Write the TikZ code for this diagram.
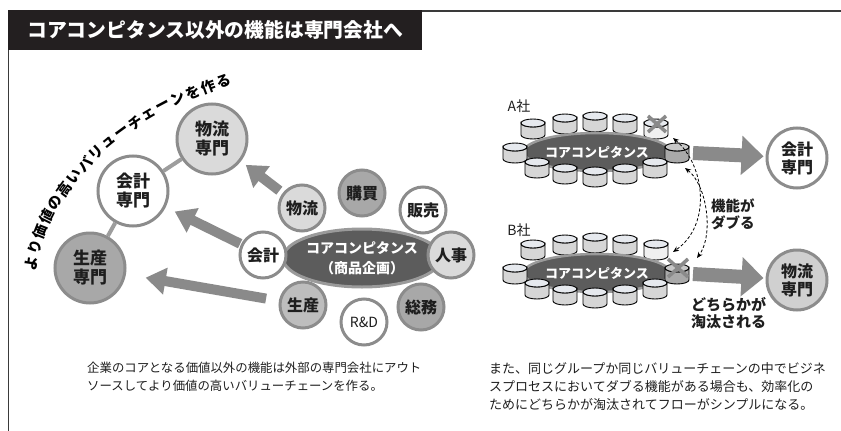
\documentclass[tikz,border=0pt]{standalone}
\usepackage{fontspec}
\newfontfamily\jp{Noto Sans CJK JP}
\usetikzlibrary{arrows.meta,shapes.geometric,calc,decorations.markings}
\newcommand\fs[2]{\fontsize{#1}{#2}\selectfont}
\definecolor{bord}{HTML}{8C8C8C}
\definecolor{lg}{HTML}{DADADA}
\definecolor{mg}{HTML}{A8A8A8}
\definecolor{sg}{HTML}{BDBDBD}
\definecolor{rg}{HTML}{D0D0D0}
\definecolor{ellf}{HTML}{5C5C5C}
\definecolor{ellb}{HTML}{9A9A9A}
\definecolor{arr}{HTML}{8A8A8A}
\definecolor{titlebg}{HTML}{231F20}
\definecolor{framec}{HTML}{3A3A3A}
\definecolor{ink}{HTML}{1E1E1E}
\definecolor{cb}{HTML}{D6D6D6}
\definecolor{cw}{HTML}{F0F0F0}
\definecolor{ch}{HTML}{A9A9A9}
\definecolor{cyltop}{HTML}{E6E9EE}
\definecolor{cyltoph}{HTML}{C8C8C8}
\tikzset{
  bigc/.style={circle, draw=bord, line width=3pt, minimum size=70pt, inner sep=0pt,
    font=\jp\bfseries\fs{17}{19}, text=ink, align=center},
  smallc/.style={circle, draw=bord, line width=3pt, minimum size=46pt, inner sep=0pt,
    font=\jp\bfseries\fs{16}{17}, text=ink},
  rbig/.style={circle, draw=bord, line width=3pt, minimum size=60pt, inner sep=0pt,
    font=\jp\bfseries\fs{16}{18}, text=ink, align=center},
  ellL/.style={ellipse, fill=ellf, draw=ellb, line width=3pt, minimum width=133pt,
    minimum height=58pt, inner sep=0pt, text=white, align=center,
    font=\jp\bfseries\fs{14}{20}},
  ellR/.style={ellipse, fill=ellf, draw=ellb, line width=2.5pt, minimum width=132pt,
    minimum height=38pt, inner sep=0pt, text=white, font=\jp\bfseries\fs{13}{15}},
  conn/.style={draw=bord!85, line width=4pt},
  bigarrow/.style={draw=arr, line width=10pt, -{Triangle[length=20pt,width=26pt]}},
  rarrow/.style={draw=arr, line width=14pt, -{Triangle[length=22pt,width=38pt]}},
  dasharr/.style={draw=black, line width=0.8pt, dash pattern=on 3pt off 2pt,
    {Stealth[length=6pt,width=5pt]}-{Stealth[length=6pt,width=5pt]}},
  xmark/.style={draw=arr, line width=3.5pt},
  arcch/.style={font=\jp\bfseries\fs{14.5}{15}, inner sep=0pt, text=black, transform shape},
  lbl/.style={font=\jp\bfseries\fs{14.5}{17}, text=ink, align=left, inner sep=0pt},
  captxt/.style={font=\jp\fs{12.4}{18}, text=ink, align=left, inner sep=0pt},
  pics/cyl/.style 2 args={code={
    \draw[black, line width=0.9pt, fill=#1] (-12,-6) -- (-12,6)
      arc[start angle=180, end angle=0, x radius=12, y radius=4] -- (12,-6)
      arc[start angle=0, end angle=180, x radius=12, y radius=4] -- cycle;
    \draw[black, line width=0.9pt, fill=#2] (0,-6) ellipse[x radius=12, y radius=4];
  }}
}
\newcommand\cgroup[2]{%
  \begin{scope}[shift={(0,#1)}]
    \pic at (533,129) {cyl={cb}{cyltop}};
    \pic at (565,124) {cyl={cb}{cyltop}};
    \pic at (595,122) {cyl={cb}{cyltop}};
    \pic at (625,124) {cyl={cb}{cyltop}};
    \pic at (656,129) {cyl={cw}{cyltop}};
    \node[ellR] (#2) at (597,152) {コアコンピタンス};
    \pic at (515,153) {cyl={cb}{cyltop}};
    \pic at (677,153) {cyl={ch}{cyltoph}};
    \pic at (537,168) {cyl={cb}{cyltop}};
    \pic at (565,174) {cyl={cb}{cyltop}};
    \pic at (595,177) {cyl={cb}{cyltop}};
    \pic at (625,174) {cyl={cb}{cyltop}};
    \pic at (655,168) {cyl={cb}{cyltop}};
    \coordinate (#2-out) at (693,153);
  \end{scope}}
\begin{document}
\begin{tikzpicture}[x=1pt,y=-1pt]
\useasboundingbox (0,0) rectangle (841,431);
% frame and title
\fill[titlebg] (8,10) rectangle (422,50);
\draw[framec, line width=1.6pt] (422,11) -- (841,11);
\draw[framec, line width=1.2pt] (8.6,50) -- (8.6,431);
\node[anchor=west, text=white, font=\jp\bfseries\fs{19.8}{22}, inner sep=0pt] (title) at (27,30)
  {コアコンピタンス以外の機能は専門会社へ};

% ---- left diagram ----
\node[bigc, fill=lg] (b-butsu) at (212,139) {物流\\専門};
\node[bigc, fill=white] (b-kaikei) at (133,191) {会計\\専門};
\node[bigc, fill=mg] (b-seisan) at (90,268) {生産\\専門};
\draw[conn] (b-kaikei) -- (b-butsu);
\draw[conn] (b-kaikei) -- (b-seisan);

\node[ellL] (core) at (362,258) {コアコンピタンス\\（商品企画）};
\node[smallc, fill=lg] (s-butsu) at (302,208) {物流};
\node[smallc, fill=mg] (s-koubai) at (362,193) {購買};
\node[smallc, fill=white] (s-hanbai) at (423,210) {販売};
\node[smallc, fill=white] (s-kaikei) at (263,255) {会計};
\node[smallc, fill=lg] (s-jinji) at (451,255) {人事};
\node[smallc, fill=sg] (s-seisan) at (303,305) {生産};
\node[smallc, fill=white, font=\jp\fs{14}{16}] (s-rd) at (364,322) {R\&D};
\node[smallc, fill=mg] (s-soumu) at (421,307) {総務};

\draw[bigarrow, shorten <=4pt, shorten >=6pt] (s-butsu) -- (b-butsu);
\draw[bigarrow, shorten <=1pt, shorten >=10pt] (s-kaikei) -- (b-kaikei);
\draw[bigarrow, shorten <=13pt, shorten >=20pt] (s-seisan) -- (b-seisan);

% arc text, evenly spaced along a curve
\foreach \ch [count=\i] in {よ,り,価,値,の,高,い,バ,リ,ュ,ー,チ,ェ,ー,ン,を,作,る}{
  \pgfmathsetmacro\dd{12+(\i-1)*16.3}
  \path[postaction={decorate}, decoration={markings,
      mark=at position \dd pt with {\node[arcch] (arc\i) {\ch};}}]
    (30,275) .. controls (38,190) and (120,110) .. (240,76);
}

% ---- right diagram ----
\node[font=\jp\fs{14}{16}, text=ink, inner sep=0pt] (lab-a) at (519,106) {A社};
\node[font=\jp\fs{14}{16}, text=ink, inner sep=0pt] (lab-b) at (519,230) {B社};
\cgroup{0}{ga}
\cgroup{121}{gb}

\coordinate (xa) at (657,124);
\coordinate (xb) at (678,268);
\draw[xmark] ($(xa)+(-9,-8)$) -- ($(xa)+(9,8)$);
\draw[xmark] ($(xa)+(-9,8)$) -- ($(xa)+(9,-8)$);
\draw[xmark] ($(xb)+(-10,-9)$) -- ($(xb)+(10,9)$);
\draw[xmark] ($(xb)+(-10,9)$) -- ($(xb)+(10,-9)$);

\node[rbig, fill=white] (r-kaikei) at (797,158) {会計\\専門};
\node[rbig, fill=rg] (r-butsu) at (797,280) {物流\\専門};
\draw[rarrow, shorten >=2pt] (ga-out) -- (r-kaikei);
\draw[rarrow, shorten >=2pt] (gb-out) -- (r-butsu);

\coordinate (d1s) at (673,138);
\coordinate (d1e) at (673,252);
\coordinate (d2s) at (685,168);
\coordinate (d2e) at (697,258);
\draw[dasharr] (d1s) .. controls (705,165) and (712,225) .. (d1e);
\draw[dasharr] (d2s) .. controls (707,185) and (714,235) .. (d2e);

\node[lbl, anchor=west] (t-dub) at (711,214) {機能が\\ダブる};
\node[lbl, anchor=west, font=\jp\bfseries\fs{15}{17}] (t-tou) at (691,313) {どちらかが\\淘汰される};

% captions
\node[captxt, anchor=north west] (cap-l) at (87,362)
  {企業のコアとなる価値以外の機能は外部の専門会社にアウト\\ソースしてより価値の高いバリューチェーンを作る。};
\node[captxt, anchor=north west, font=\jp\fs{13}{18}] (cap-r) at (489,362)
  {また、同じグループか同じバリューチェーンの中でビジネ\\スプロセスにおいてダブる機能がある場合も、効率化の\\ためにどちらかが淘汰されてフローがシンプルになる。};
\end{tikzpicture}
\end{document}
